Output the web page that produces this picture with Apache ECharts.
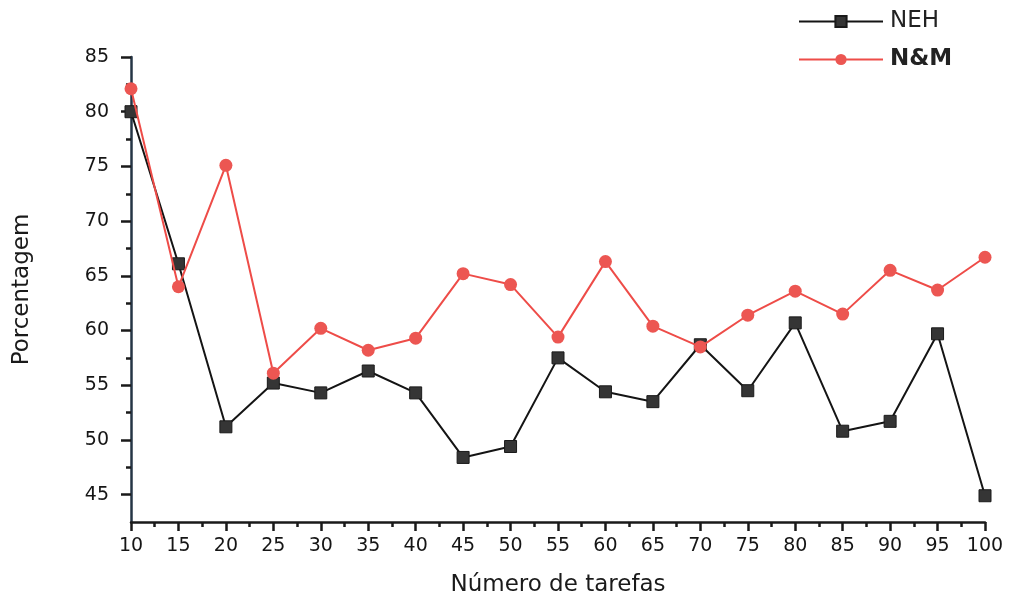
<!DOCTYPE html>
<html>
<head>
<meta charset="utf-8">
<script src="https://cdn.jsdelivr.net/npm/echarts@6/dist/echarts.min.js"></script>
<style>
  html, body { margin: 0; padding: 0; background: #fff; }
  #chart { width: 1014px; height: 602px; }
</style>
</head>
<body>
<div id="chart"></div>
<script>
// Number of tasks (x) and the percentage obtained by each heuristic
const tarefas = [10, 15, 20, 25, 30, 35, 40, 45, 50, 55, 60, 65, 70, 75, 80, 85, 90, 95, 100];
const neh = [80.0, 66.1, 51.2, 55.2, 54.3, 56.3, 54.3, 48.4, 49.4, 57.5, 54.4, 53.5, 58.7, 54.5, 60.7, 50.8, 51.7, 59.7, 44.9];
const nm  = [82.1, 64.0, 75.1, 56.1, 60.2, 58.2, 59.3, 65.2, 64.2, 59.4, 66.3, 60.4, 58.5, 61.4, 63.6, 61.5, 65.5, 63.7, 66.7];
const yTicks = [45, 50, 55, 60, 65, 70, 75, 80, 85];
const yMinorTicks = [47.5, 52.5, 57.5, 62.5, 67.5, 72.5, 77.5, 82.5];

const FONT = '"DejaVu Sans", "Liberation Sans", Arial, sans-serif';
const pairs = (ys) => tarefas.map((x, i) => [x, ys[i]]);

const chart = echarts.init(document.getElementById('chart'), null, { renderer: 'canvas' });
chart.setOption({
  backgroundColor: '#ffffff',
  animation: false,
  grid: { left: 131, right: 29, top: 57, bottom: 79, containLabel: false },
  legend: {
    orient: 'vertical',
    left: 793,
    top: 5,
    itemWidth: 84,
    itemHeight: 14,
    itemGap: 15,
    textStyle: {
      fontFamily: FONT, fontSize: 23, color: '#222', padding: [0, 0, 0, 2],
      rich: {
        n: { fontFamily: FONT, fontSize: 23, color: '#222' },
        b: { fontFamily: FONT, fontSize: 23, fontWeight: 'bold', color: '#222' }
      }
    },
    formatter: (name) => name === 'N&M' ? '{b|' + name + '}' : '{n|' + name + '}',
    data: ['NEH', 'N&M']
  },
  xAxis: {
    type: 'value',
    min: 10,
    max: 100,
    interval: 5,
    name: 'Número de tarefas',
    nameLocation: 'middle',
    nameGap: 52,
    nameTextStyle: { fontFamily: FONT, fontSize: 23, color: '#1a1a1a' },
    axisLine: { show: true, lineStyle: { color: '#1a1a1a', width: 2.5 } },
    axisTick: { show: true, inside: false, length: 9, lineStyle: { color: '#1a1a1a', width: 2.5 } },
    minorTick: { show: true, splitNumber: 2, length: 5, lineStyle: { color: '#1a1a1a', width: 2.5 } },
    axisLabel: { fontFamily: FONT, fontSize: 19, color: '#151515', margin: 15 },
    splitLine: { show: false }
  },
  yAxis: [
    {
      type: 'value',
      min: 42.5,
      max: 85,
      name: 'Porcentagem',
      nameLocation: 'middle',
      nameGap: 97,
      nameRotate: 90,
      nameTextStyle: { fontFamily: FONT, fontSize: 23, color: '#1a1a1a' },
      axisLine: { show: true, lineStyle: { color: '#253545', width: 2.5 } },
      axisTick: { show: true, inside: false, length: 10, customValues: yTicks, lineStyle: { color: '#1a1a1a', width: 2.5 } },
      axisLabel: { fontFamily: FONT, fontSize: 19, color: '#151515', margin: 22, customValues: yTicks },
      splitLine: { show: false }
    },
    {
      // minor ticks between the labelled values
      type: 'value',
      min: 42.5,
      max: 85,
      position: 'left',
      axisLine: { show: false },
      axisTick: { show: true, inside: false, length: 5, customValues: yMinorTicks, lineStyle: { color: '#1a1a1a', width: 2.5 } },
      axisLabel: { show: false },
      splitLine: { show: false }
    }
  ],
  series: [
    {
      name: 'NEH',
      type: 'line',
      data: pairs(neh),
      symbol: 'rect',
      symbolSize: 12,
      itemStyle: { color: '#353535', borderColor: '#1a1a1a', borderWidth: 1 },
      lineStyle: { color: '#141414', width: 2 },
      z: 2
    },
    {
      name: 'N&M',
      type: 'line',
      data: pairs(nm),
      symbol: 'circle',
      symbolSize: 13,
      itemStyle: { color: '#ec5652' },
      lineStyle: { color: '#ee4c48', width: 2 },
      z: 3
    }
  ]
});
</script>
</body>
</html>
